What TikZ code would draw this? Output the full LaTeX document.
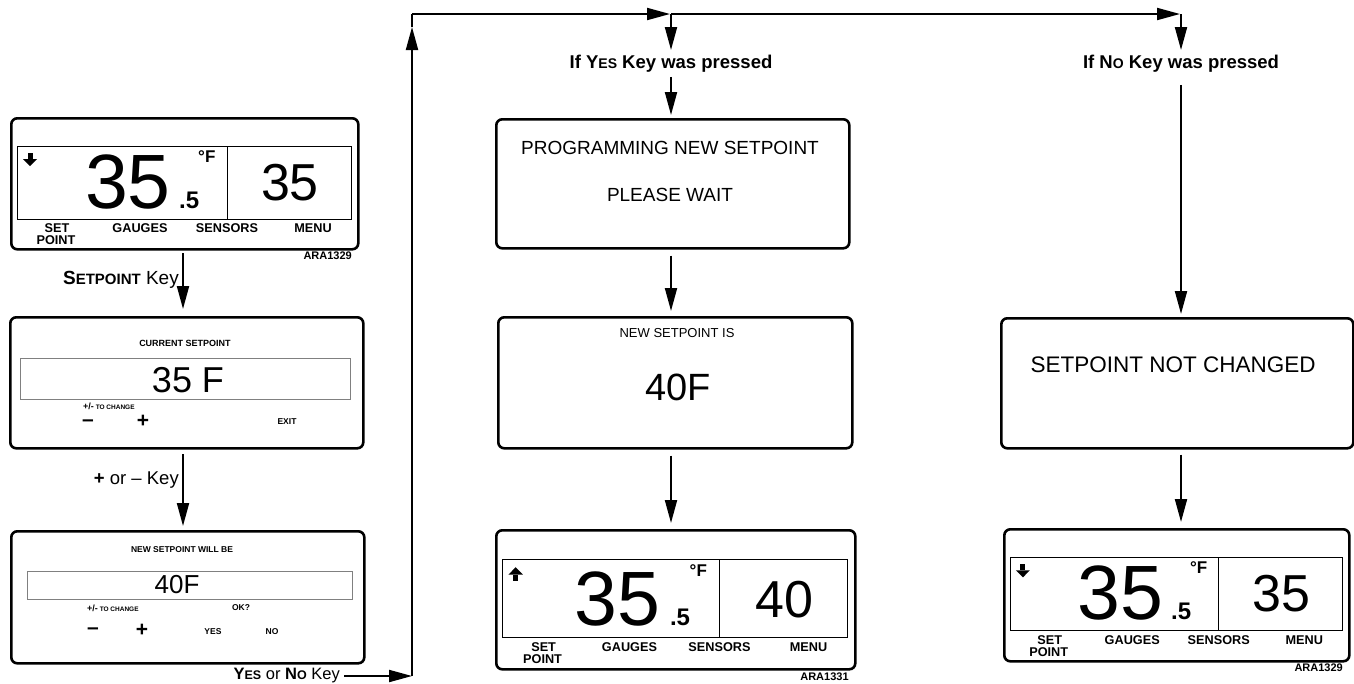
\documentclass[tikz,border=0pt]{standalone}
\usepackage{fontspec}
\setmainfont{Liberation Sans}
\usetikzlibrary{arrows.meta}
\tikzset{
  screen/.style={draw, line width=2.6pt, rounded corners=6pt, inner sep=0pt, anchor=north west},
  lcd/.style={draw, line width=0.9pt},
  lcdgray/.style={draw=black!50, line width=0.9pt},
  flow/.style={line width=2pt, -{Triangle[length=23pt,width=12pt]}},
  plain/.style={line width=2pt},
  numbig/.style={anchor=base, inner sep=0pt, font=\fontsize{77}{77}\selectfont},
  dec/.style={anchor=base west, inner sep=0pt, font=\bfseries\fontsize{24}{24}\selectfont},
  deg/.style={anchor=north west, inner sep=0pt, font=\bfseries\fontsize{17}{17}\selectfont},
  numr/.style={anchor=base, inner sep=0pt, font=\fontsize{52}{52}\selectfont},
  keylbl/.style={anchor=center, inner sep=0pt, font=\bfseries\fontsize{12.7}{13}\selectfont},
  ara/.style={anchor=east, inner sep=0pt, font=\bfseries\fontsize{11}{11}\selectfont},
  tiny/.style={inner sep=0pt, font=\bfseries\fontsize{8.5}{9}\selectfont},
  sign/.style={inner sep=0pt, font=\bfseries\fontsize{21}{21}\selectfont},
  flowlbl/.style={inner sep=0pt, font=\fontsize{17}{17}\selectfont},
  iflbl/.style={inner sep=0pt, font=\bfseries\fontsize{18.5}{18.5}\selectfont},
  bigmsg/.style={inner sep=0pt, font=\fontsize{19}{19}\selectfont},
}
\newcommand\smc[2][12.5]{{\fontsize{#1}{#1}\selectfont #2}}
\newcommand\lcdscreen[8]{%
  \node[screen, minimum width=#4pt, minimum height=#5pt] (#1) at (#2,#3) {};
  \begin{scope}[shift={(#2,#3)}, xscale=#4/347, yscale=#5/131]
    \draw[lcd] (7,29) rectangle (341,102);
    \draw[lcd] (217,29) -- (217,102);
    \ifnum#7=1
      \fill (17.5,36) rectangle (22.5,42);
      \fill (13,42) -- (27,42) -- (20,49) -- cycle;
    \else
      \fill (17.5,49) rectangle (22.5,43);
      \fill (13,43) -- (27,43) -- (20,36) -- cycle;
    \fi
    \node[numbig] (#1-t) at (118,91) {35};
    \node[dec] (#1-d) at (169,91) {.5};
    \node[deg] (#1-f) at (188,33) {°F};
    \node[numr] (#1-r) at (280,83) {#6};
    \node[keylbl] (#1-k1) at (47,111) {SET};
    \node[keylbl] (#1-k2) at (46,123) {POINT};
    \node[keylbl] (#1-k3) at (130,111) {GAUGES};
    \node[keylbl] (#1-k4) at (217,111) {SENSORS};
    \node[keylbl] (#1-k5) at (303,111) {MENU};
    \node[ara] (#1-a) at (342,139) {#8};
  \end{scope}}
\begin{document}
\begin{tikzpicture}[x=1pt,y=-1pt]
\useasboundingbox (0,0) rectangle (1354,683);

% left column
\lcdscreen{b1}{10}{117}{347}{131}{35}{1}{ARA1329}

\node[screen, minimum width=353pt, minimum height=131pt] (b2) at (9,316) {};
\node[tiny, font=\bfseries\fontsize{9}{9}\selectfont] (b2t) at (185,343) {CURRENT SETPOINT};
\node[lcdgray, minimum width=330pt, minimum height=41pt, inner sep=0pt] (b2w) at (185,378.5) {};
\node[inner sep=0pt, font=\fontsize{36}{36}\selectfont] (b2v) at (188,380) {35 F};
\node[inner sep=0pt, anchor=west] (b2c) at (83,406) {\bfseries\fontsize{9}{9}\selectfont +/-\fontsize{6.5}{7}\selectfont\ TO CHANGE};
\node[sign] (b2m) at (88,423) {–};
\node[sign] (b2p) at (143,421) {+};
\node[tiny] (b2x) at (287,422) {EXIT};

\node[screen, minimum width=353pt, minimum height=132pt] (b3) at (10,530) {};
\node[tiny] (b3t) at (182,550) {NEW SETPOINT WILL BE};
\node[lcdgray, minimum width=325pt, minimum height=28pt, inner sep=0pt] (b3w) at (189.5,585) {};
\node[inner sep=0pt, font=\fontsize{26}{26}\selectfont] (b3v) at (177,585) {40F};
\node[inner sep=0pt, anchor=west] (b3c) at (87,608) {\bfseries\fontsize{9}{9}\selectfont +/-\fontsize{6.5}{7}\selectfont\ TO CHANGE};
\node[tiny] (b3o) at (241,608) {OK?};
\node[sign] (b3m) at (93,631) {–};
\node[sign] (b3p) at (142,630) {+};
\node[tiny] (b3y) at (213,632) {YES};
\node[tiny] (b3n) at (272,632) {NO};

\draw[flow, shorten <=5pt, shorten >=7pt] (183,248) coordinate (s1) -- (s1 |- b2.north) coordinate (e1);
\node[flowlbl, anchor=east, font=\fontsize{19}{19}\selectfont] (l1) at (179,280) {\textbf{S\smc[15]{ETPOINT}} Key};
\draw[flow, shorten <=7pt, shorten >=4pt] (183,447) coordinate (s2) -- (s2 |- b3.north);
\node[flowlbl, anchor=east, font=\fontsize{18.5}{18.5}\selectfont] (l2) at (179,480) {\textbf{+} or – Key};

% feedback path
\node[flowlbl, anchor=east, font=\fontsize{16.5}{16.5}\selectfont] (l3) at (340,676) {\textbf{Y\smc[12.5]{ES}} or \textbf{N\smc[12.5]{O}} Key};
\coordinate (c1) at (412,676);
\coordinate (cup) at (412,27);
\coordinate (c2) at (412,14);
\coordinate (j1) at (671,14);
\coordinate (j2) at (1181,14);
\draw[flow, shorten <=4pt] (l3) -- (c1);
\draw[flow] (c1) -- (cup);
\draw[plain] (cup) -- (c2);
\draw[flow, shorten >=1pt] (c2) -- (j1);
\draw[flow, shorten >=1pt] (j1) -- (j2);
\coordinate (ytip) at (671,50);
\coordinate (ntip) at (1181,50);
\draw[flow] (j1) -- (ytip);
\draw[flow] (j2) -- (ntip);
\node[iflbl] (yl) at (671,64) {If Y\smc[14]{ES} Key was pressed};
\node[iflbl] (nl) at (1181,64) {If N\smc[14]{O} Key was pressed};

% middle column
\node[screen, minimum width=353pt, minimum height=129pt] (b4) at (495,118) {};
\node[bigmsg] (b4a) at (670,148) {PROGRAMMING NEW SETPOINT};
\node[bigmsg] (b4b) at (670,195) {PLEASE WAIT};
\draw[flow, shorten <=4pt, shorten >=3pt] (yl.south) -- (yl.south |- b4.north);

\node[screen, minimum width=354pt, minimum height=131pt] (b5) at (497,316) {};
\node[inner sep=0pt, font=\fontsize{13}{13}\selectfont] (b5a) at (677,333) {NEW SETPOINT IS};
\node[inner sep=0pt, font=\fontsize{38}{38}\selectfont] (b5b) at (678,387) {40F};
\draw[flow, shorten <=6pt, shorten >=5pt] (yl.south |- b4.south) -- (yl.south |- b5.north);

\lcdscreen{b6}{495}{529}{359}{139}{40}{0}{ARA1331}
\draw[flow, shorten <=6pt, shorten >=6pt] (yl.south |- b5.south) -- (yl.south |- b6.north);

% right column
\node[screen, minimum width=352pt, minimum height=130pt] (b7) at (1000,317) {};
\node[inner sep=0pt, font=\fontsize{22.5}{22.5}\selectfont] (b7a) at (1173,365) {SETPOINT NOT CHANGED};
\draw[flow, shorten <=12pt, shorten >=3pt] (nl.south) -- (nl.south |- b7.north);

\lcdscreen{b8}{1003}{528}{345}{132}{35}{1}{ARA1329}
\draw[flow, shorten <=5pt, shorten >=6pt] (nl.south |- b7.south) -- (nl.south |- b8.north);
\end{tikzpicture}
\end{document}
